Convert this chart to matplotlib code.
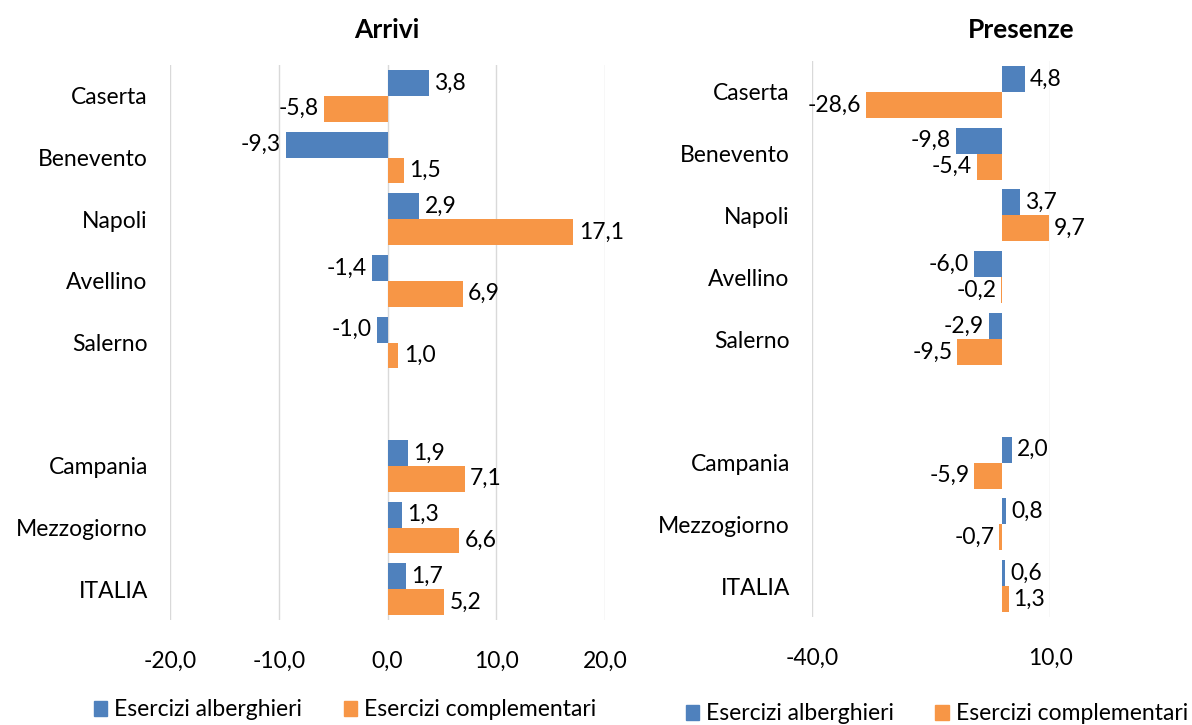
import numpy as np
import matplotlib.pyplot as plt
from matplotlib.patches import Patch

plt.rcParams['font.family'] = ['Lato', 'DejaVu Sans']

categories = ["Caserta", "Benevento", "Napoli", "Avellino", "Salerno", "",
              "Campania", "Mezzogiorno", "ITALIA"]
arrivi_alb = [3.8, -9.3, 2.9, -1.4, -1.0, np.nan, 1.9, 1.3, 1.7]
arrivi_comp = [-5.8, 1.5, 17.1, 6.9, 1.0, np.nan, 7.1, 6.6, 5.2]
presenze_alb = [4.8, -9.8, 3.7, -6.0, -2.9, np.nan, 2.0, 0.8, 0.6]
presenze_comp = [-28.6, -5.4, 9.7, -0.2, -9.5, np.nan, -5.9, -0.7, 1.3]

blue = "#4F81BD"
orange = "#F79646"
fs = 16.5


def fmt(v):
    return f"{v:.1f}".replace(".", ",")


def draw(ax, alb, comp, xlim, ticks, pad):
    y = np.arange(len(categories))
    h = 0.42
    ax.barh(y - h / 2, alb, height=h, color=blue, zorder=3)
    ax.barh(y + h / 2, comp, height=h, color=orange, zorder=3)
    for vals, off in ((alb, -h / 2), (comp, h / 2)):
        for yi, v in zip(y, vals):
            if np.isnan(v):
                continue
            ha = "left" if v >= 0 else "right"
            ax.text(v + (pad if v >= 0 else -pad), yi + off, fmt(v),
                    ha=ha, va="center", fontsize=fs, zorder=4)
    ax.set_xlim(*xlim)
    ax.set_ylim(len(categories) - 0.5, -0.5)
    ax.set_yticks(y)
    ax.set_yticklabels(categories, fontsize=fs)
    ax.set_xticks(ticks)
    ax.set_xticklabels([fmt(t) for t in ticks], fontsize=fs)
    ax.tick_params(length=0)
    ax.tick_params(axis="x", pad=22)
    ax.tick_params(axis="y", pad=16)
    ax.grid(axis="x", color="#D9D9D9", linewidth=1, zorder=0)
    for s in ax.spines.values():
        s.set_visible(False)


fig = plt.figure(figsize=(11.92, 7.25), dpi=100)

ax1 = fig.add_axes([170 / 1192, 1 - 620 / 725, 435 / 1192, 555 / 725])
draw(ax1, arrivi_alb, arrivi_comp, (-20, 20), [-20, -10, 0, 10, 20], 0.5)

ax2 = fig.add_axes([812 / 1192, 1 - 617 / 725, 238 / 1192, 556 / 725])
draw(ax2, presenze_alb, presenze_comp, (-40, 10), [-40, 10], 1.0)

fig.text(387 / 1192, 1 - 30 / 725, "Arrivi", ha="center", va="center",
         fontsize=19, fontweight="bold")
fig.text(1021 / 1192, 1 - 30 / 725, "Presenze", ha="center", va="center",
         fontsize=19, fontweight="bold")

handles = [Patch(color=blue, label="Esercizi alberghieri"),
           Patch(color=orange, label="Esercizi complementari")]
fig.legend(handles=handles, loc="center", bbox_to_anchor=(345 / 1192, 1 - 710 / 725),
           ncol=2, frameon=False, fontsize=fs, handlelength=0.6, handleheight=0.6,
           handletextpad=0.3, columnspacing=1.8)
fig.legend(handles=handles, loc="center", bbox_to_anchor=(937 / 1192, 1 - 714 / 725),
           ncol=2, frameon=False, fontsize=fs, handlelength=0.6, handleheight=0.6,
           handletextpad=0.3, columnspacing=1.8)

fig.savefig("out.png", dpi=100)
